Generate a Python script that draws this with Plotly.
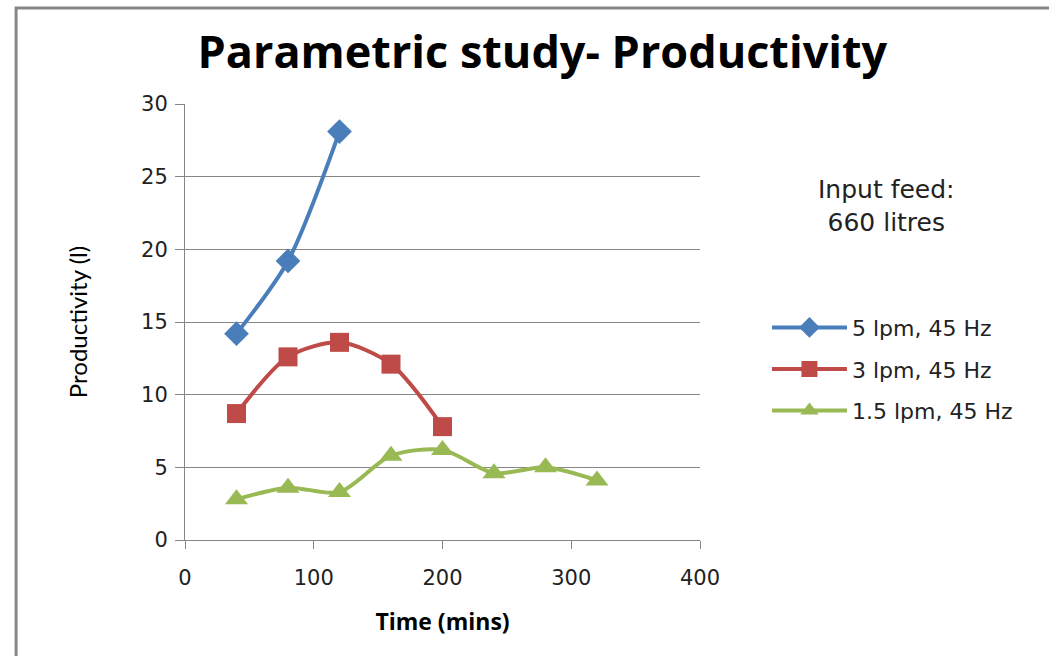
import plotly.graph_objects as go

# Productivity over time for three flow rates at 45 Hz
time_5lpm = [40, 80, 120]
prod_5lpm = [14.2, 19.2, 28.1]

time_3lpm = [40, 80, 120, 160, 200]
prod_3lpm = [8.7, 12.6, 13.6, 12.1, 7.8]

time_15lpm = [40, 80, 120, 160, 200, 240, 280, 320]
prod_15lpm = [2.8, 3.6, 3.3, 5.8, 6.2, 4.6, 5.0, 4.1]

series = [
    ("5 lpm, 45 Hz", time_5lpm, prod_5lpm, "#4A7EBB", "diamond", 19),
    ("3 lpm, 45 Hz", time_3lpm, prod_3lpm, "#BE4B48", "square", 19),
    ("1.5 lpm, 45 Hz", time_15lpm, prod_15lpm, "#98B954", "triangle-up", 20),
]

fig = go.Figure()
for name, xs, ys, color, symbol, size in series:
    fig.add_trace(go.Scatter(
        x=xs, y=ys, name=name, mode="lines+markers",
        line=dict(color=color, width=4, shape="spline", smoothing=0.8),
        marker=dict(symbol=symbol, size=size, color=color),
        legendgroup=name,
    ))

axis_color = "#868686"
tick_font = dict(family="DejaVu Sans", size=21, color="#222222")

fig.update_layout(
    width=1049, height=656,
    margin=dict(l=185, r=349, t=104, b=116),
    paper_bgcolor="white", plot_bgcolor="white",
    title=dict(
        text="<b>Parametric study- Productivity</b>",
        font=dict(family="Open Sans", size=45, color="black"),
        x=0.517, xanchor="center", y=0.92, yanchor="middle",
    ),
    xaxis=dict(
        range=[0, 400], dtick=100, showgrid=False,
        showline=True, linecolor=axis_color, linewidth=1,
        ticks="outside", ticklen=8, tickcolor=axis_color,
        tickfont=tick_font, zeroline=False, ticklabelstandoff=11,
        title=dict(text="<b>Time (mins)</b>",
                   font=dict(family="Open Sans", size=23, color="black"),
                   standoff=24),
    ),
    yaxis=dict(
        range=[0, 30], dtick=5, showgrid=True, gridcolor=axis_color, gridwidth=1,
        showline=True, linecolor=axis_color, linewidth=1,
        ticks="outside", ticklen=9, tickcolor=axis_color,
        tickfont=tick_font, zeroline=False, ticklabelstandoff=3,
        title=dict(text="Productivity (l)",
                   font=dict(family="Lato", size=24, color="black"),
                   standoff=46),
    ),
    legend=dict(
        x=1.13, xanchor="left", y=0.392, yanchor="middle",
        font=dict(family="DejaVu Sans", size=22, color="#222222"),
        tracegroupgap=10, itemwidth=75, bgcolor="rgba(0,0,0,0)",
    ),
    annotations=[dict(
        text="Input feed:<br>660 litres", xref="paper", yref="paper",
        x=1.363, y=0.766, xanchor="center", yanchor="middle", showarrow=False,
        font=dict(family="DejaVu Sans", size=25, color="#222222"),
    )],
    shapes=[dict(
        type="rect", xref="paper", yref="paper",
        x0=-0.328, x1=1.75, y0=-0.4, y1=1.22,
        line=dict(color="#878787", width=3), fillcolor="rgba(0,0,0,0)",
        layer="below",
    )],
)

fig.write_html("out.html")
